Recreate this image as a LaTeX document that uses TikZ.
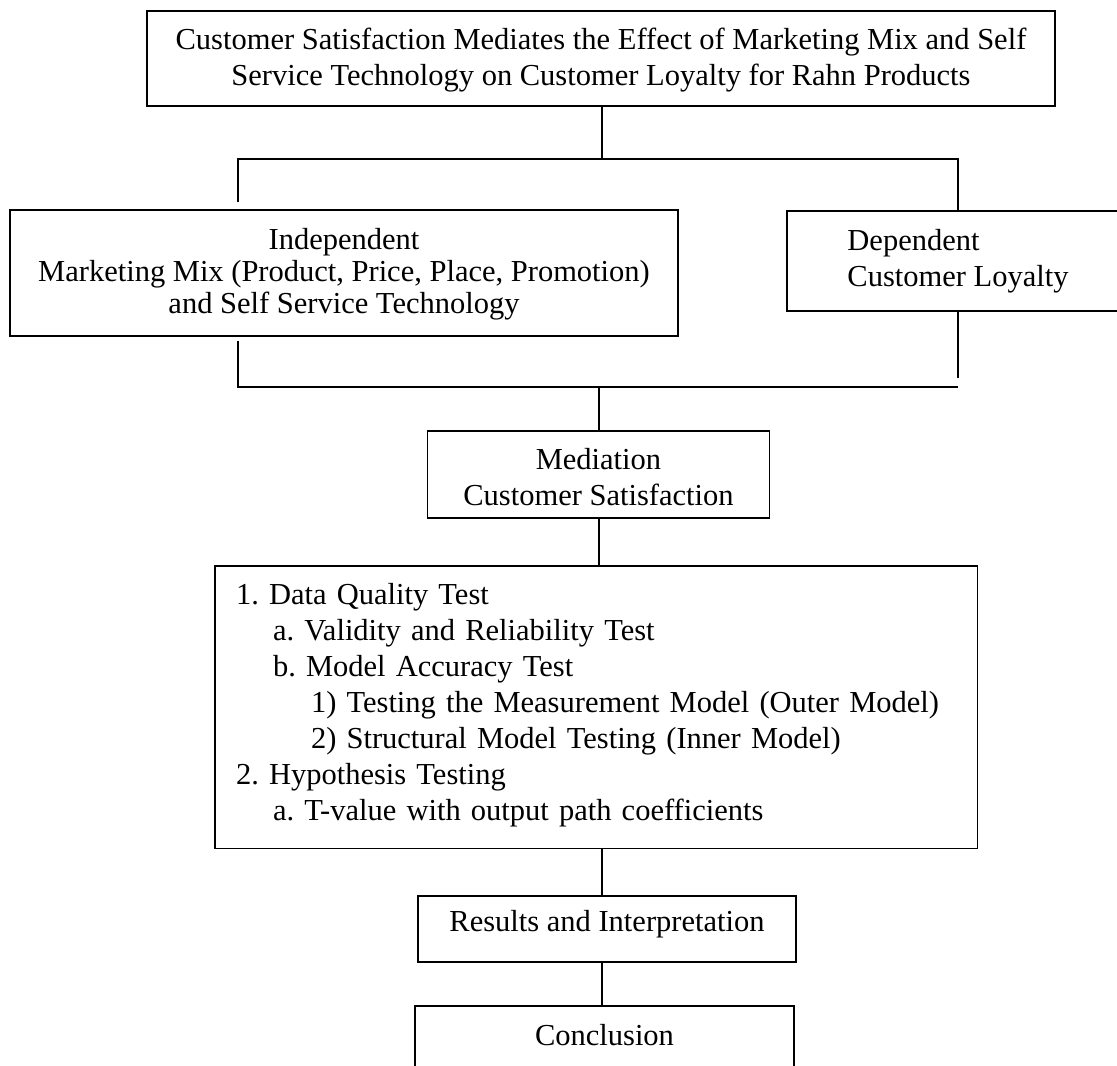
\documentclass[tikz,border=0pt]{standalone}
\usepackage{fontspec}
\setmainfont{Liberation Serif}
\begin{document}
\frenchspacing
\begin{tikzpicture}[x=1pt,y=-1pt,
  every node/.style={font=\fontsize{30.5}{36}\selectfont},
  box/.style={draw, line width=1.6pt, inner sep=0pt, anchor=base, align=center},
  link/.style={line width=1.3pt}]
\clip (0,0) rectangle (1117,1066);
\fill[white] (0,0) rectangle (1117,1066);

% boxes (anchor = last baseline; first baseline for the text-width box)
\node[box, minimum width=908pt, text height=74pt, text depth=21pt] (top) at (601,85)
  {Customer Satisfaction Mediates the Effect of Marketing Mix and Self\\Service Technology on Customer Loyalty for Rahn Products};
\node[box, minimum width=668pt, text height=103pt, text depth=22.7pt,
      font=\fontsize{30.5}{32}\selectfont] (indep) at (344,313)
  {Independent\\Marketing Mix (Product, Price, Place, Promotion)\\and Self Service Technology};
\node[box, align=left, minimum width=342pt, text height=75.3pt, text depth=24.7pt] (dep) at (958,286)
  {Dependent\\Customer Loyalty};
\node[box, minimum width=342pt, text height=74pt, text depth=12.7pt] (med) at (598.5,505)
  {Mediation\\Customer Satisfaction};
\node[box, align=left, text width=720.6pt, inner xsep=21pt, text height=38.6pt, text depth=244pt] (tests) at (596.3,604.3)
  {1. Data Quality Test\\
   \hspace*{37pt}a. Validity and Reliability Test\\
   \hspace*{37pt}b. Model Accuracy Test\\
   \hspace*{75pt}1) Testing the Measurement Model (Outer Model)\\
   \hspace*{75pt}2) Structural Model Testing (Inner Model)\\
   2. Hypothesis Testing\\
   \hspace*{37pt}a. T-value with output path coefficients};
\node[box, minimum width=378pt, text height=35.7pt, text depth=30.3pt] (res) at (607,931.7)
  {Results and Interpretation};
\node[box, draw=none, minimum width=377pt, text height=38.3pt, text depth=60pt] (concl) at (604.5,1045)
  {Conclusion};
\draw[line width=1.6pt] (concl.south west) -- (concl.north west) -- (concl.north east) -- (concl.south east);

% junction points
\coordinate (jtc) at (602,159);
\coordinate (jtl) at (238,159);
\coordinate (jtr) at (958,159);
\coordinate (jbl) at (238,387);
\coordinate (jbr) at (958,387);
\coordinate (jbc) at (599,387);
\coordinate (jm) at (599,540);
\coordinate (jr) at (602,900);

% connectors
\draw[link] (top.south -| jtc) -- (jtc);
\draw[link, shorten <=7pt] (indep.north -| jtl) -- (jtl) -- (jtr) -- (dep.north -| jtr);
\draw[link, shorten <=4pt] (indep.south -| jbl) -- (jbl) -- (jbr);
\draw[link, shorten >=9pt] (dep.south -| jbr) -- (jbr);
\draw[link] (jbc) -- (med.north -| jbc);
\draw[link] (med.south -| jm) -- (tests.north -| jm);
\draw[link] (tests.south -| jr) -- (res.north -| jr);
\draw[link] (res.south -| jr) -- (concl.north -| jr);
\end{tikzpicture}
\end{document}
